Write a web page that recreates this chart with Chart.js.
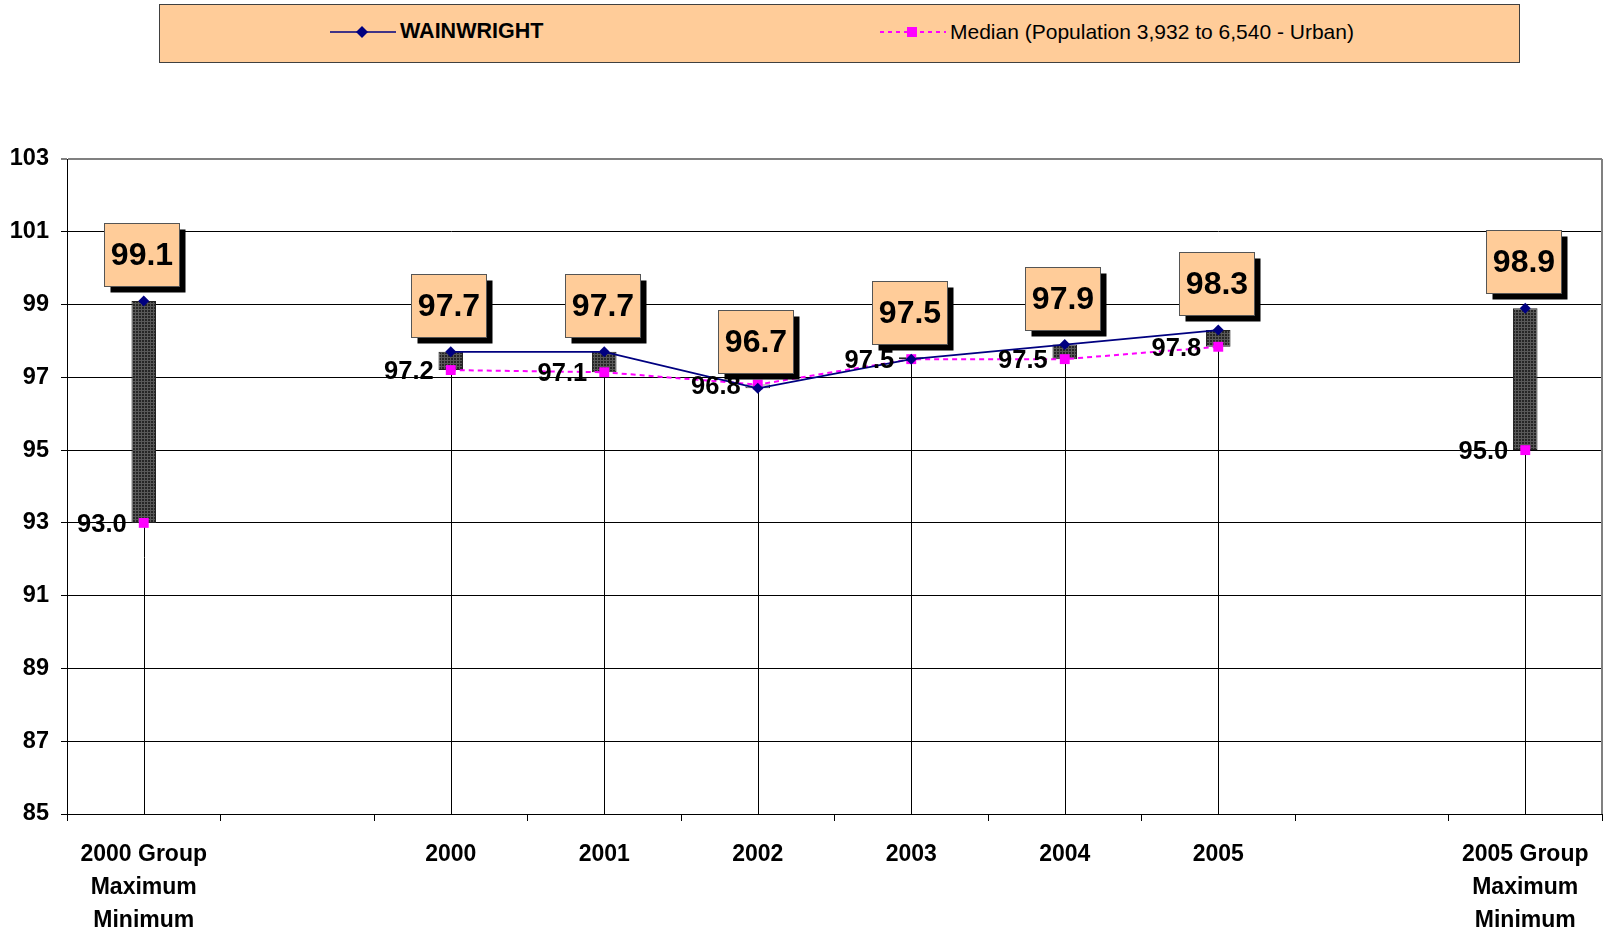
<!DOCTYPE html>
<html>
<head>
<meta charset="utf-8">
<script src="https://cdn.jsdelivr.net/npm/chart.js@4/dist/chart.umd.min.js"></script>
<style>
body { margin: 0; background: #fff; }
#wrap { position: relative; width: 1609px; height: 934px; }
#legend { position: absolute; left: 159px; top: 4px; width: 1359px; height: 57px; background: #FFCC99; border: 1px solid #404040; font-family: 'Liberation Sans', Arial, sans-serif; font-size: 21px; color: #000; }
.item { position: absolute; top: -2px; height: 57px; display: flex; align-items: center; }
.item svg { margin-right: 4px; }
</style>
</head>
<body>
<div id="wrap">
  <canvas id="chart"></canvas>
  <div id="legend">
    <div class="item" style="left:170px">
      <svg width="66" height="14"><line x1="0" y1="7" x2="66" y2="7" stroke="#000080" stroke-width="1.5"/><polygon points="32,1 38,7 32,13 26,7" fill="#000080"/></svg>
      <span style="font-weight:bold;font-size:21.5px">WAINWRIGHT</span>
    </div>
    <div class="item" style="left:720px">
      <svg width="66" height="14"><line x1="0" y1="7" x2="66" y2="7" stroke="#FF00FF" stroke-width="2" stroke-dasharray="4,4"/><rect x="27" y="2" width="10" height="10" fill="#FF00FF"/></svg>
      <span>Median (Population 3,932 to 6,540 - Urban)</span>
    </div>
  </div>
</div>
<script>
const categories = [['2000 Group', 'Maximum', 'Minimum'], '', '2000', '2001', '2002', '2003', '2004', '2005', '', ['2005 Group', 'Maximum', 'Minimum']]
const wainwright = [99.1, null, 97.7, 97.7, 96.7, 97.5, 97.9, 98.3, null, 98.9]
const median = [93.0, null, 97.2, 97.14, 96.8, 97.5, 97.5, 97.84, null, 95.0]
const yTicks = [85, 87, 89, 91, 93, 95, 97, 99, 101, 103]

const canvas = document.getElementById('chart')

// dark mesh fill like the Excel up/down bars
function meshPattern() {
    const c = document.createElement('canvas')
    c.width = 3; c.height = 3
    const g = c.getContext('2d')
    g.fillStyle = '#262626'
    g.fillRect(0, 0, 3, 3)
    g.fillStyle = '#595959'
    g.fillRect(0, 0, 3, 1)
    g.fillRect(0, 0, 1, 3)
    return canvas.getContext('2d').createPattern(c, 'repeat')
}
const mesh = meshPattern()

const spans = wainwright.map((v, i) => v == null ? null : [Math.min(v, median[i]), Math.max(v, median[i])])
const spanColors = wainwright.map((v, i) => (v != null && v < median[i]) ? '#ffffff' : mesh)

const boldFont = "'Liberation Sans', Arial, sans-serif"

const markup = {
    id: 'markup',
    beforeDatasetsDraw(chart) {
        const { ctx, chartArea } = chart
        const x = chart.scales.x, y = chart.scales.y
        ctx.save()
        // drop lines
        ctx.strokeStyle = '#000'
        ctx.lineWidth = 1
        wainwright.forEach((v, i) => {
            if (v == null) return
            const px = Math.round(x.getPixelForValue(i)) + 0.5
            ctx.beginPath()
            ctx.moveTo(px, y.getPixelForValue(Math.max(v, median[i])))
            ctx.lineTo(px, chartArea.bottom)
            ctx.stroke()
        })
        // right plot border
        ctx.strokeStyle = '#808080'
        ctx.lineWidth = 2
        ctx.beginPath()
        ctx.moveTo(chartArea.right, chartArea.top)
        ctx.lineTo(chartArea.right, chartArea.bottom)
        ctx.stroke()
        ctx.restore()
    },
    afterDatasetsDraw(chart) {
        const { ctx } = chart
        const x = chart.scales.x, y = chart.scales.y
        ctx.save()
        wainwright.forEach((v, i) => {
            if (v == null) return
            const px = x.getPixelForValue(i)
            const py = y.getPixelForValue(v)
            const w = 75, h = 63
            const left = Math.round(px - 2 - w / 2) + 0.5
            const top = Math.round(py - 15 - h) + 0.5
            ctx.fillStyle = '#000'
            ctx.fillRect(left + 6, top + 6, w, h)
            ctx.fillStyle = '#FFCC99'
            ctx.fillRect(left, top, w, h)
            ctx.strokeStyle = '#555'
            ctx.lineWidth = 1
            ctx.strokeRect(left, top, w, h)
            ctx.fillStyle = '#000'
            ctx.font = 'bold 32px ' + boldFont
            ctx.textAlign = 'center'
            ctx.textBaseline = 'middle'
            ctx.fillText(v.toFixed(1), left + w / 2, top + h / 2 + 1)
        })
        median.forEach((v, i) => {
            if (v == null) return
            const px = x.getPixelForValue(i)
            const py = y.getPixelForValue(v)
            ctx.fillStyle = '#000'
            ctx.font = 'bold 25.5px ' + boldFont
            ctx.textAlign = 'right'
            ctx.textBaseline = 'middle'
            ctx.fillText(v.toFixed(1), px - 17, py + 2)
        })
        ctx.restore()
    }
}

new Chart(canvas, {
    type: 'bar',
    data: {
        labels: categories,
        datasets: [{
            type: 'line',
            label: 'WAINWRIGHT',
            data: wainwright,
            borderColor: '#000080',
            backgroundColor: '#000080',
            borderWidth: 1.75,
            pointStyle: 'rectRot',
            pointRadius: 5.5,
            pointBorderWidth: 0,
            order: 0
        }, {
            type: 'line',
            label: 'Median (Population 3,932 to 6,540 - Urban)',
            data: median,
            borderColor: '#FF00FF',
            backgroundColor: '#FF00FF',
            borderWidth: 2,
            borderDash: [5, 4],
            pointStyle: 'rect',
            pointRadius: 7,
            pointBorderWidth: 0,
            order: 1
        }, {
            type: 'bar',
            label: 'span',
            data: spans,
            backgroundColor: spanColors,
            borderColor: '#222',
            borderWidth: 1,
            borderSkipped: false,
            minBarLength: 2,
            barPercentage: 0.16,
            categoryPercentage: 1,
            order: 2
        }]
    },
    options: {
        responsive: true,
        maintainAspectRatio: false,
        animation: false,
        layout: { padding: { top: 159, right: 5, left: 0, bottom: 0 } },
        plugins: {
            legend: { display: false },
            tooltip: { enabled: false }
        },
        scales: {
            x: {
                grid: { drawOnChartArea: false, drawTicks: true, tickLength: 7, color: '#000', offset: true },
                border: { color: '#000', width: 1 },
                ticks: {
                    color: '#000',
                    font: { family: boldFont, size: 23, weight: 'bold', lineHeight: 1.43 },
                    padding: 17,
                    maxRotation: 0,
                    autoSkip: false
                },
                afterFit(s) { s.height = 120 }
            },
            y: {
                min: yTicks[0],
                max: yTicks[yTicks.length - 1],
                afterBuildTicks(s) { s.ticks = yTicks.map(v => ({ value: v })) },
                grid: {
                    color: c => c.tick && c.tick.value === 103 ? '#808080' : '#000',
                    lineWidth: c => c.tick && c.tick.value === 103 ? 2 : 1,
                    tickLength: 6
                },
                border: { color: '#000', width: 1 },
                ticks: {
                    color: '#000',
                    font: { family: boldFont, size: 23.5, weight: 'bold' },
                    padding: 12
                },
                afterFit(s) { s.width = 67 }
            }
        }
    },
    plugins: [markup]
});
</script>
</body>
</html>
